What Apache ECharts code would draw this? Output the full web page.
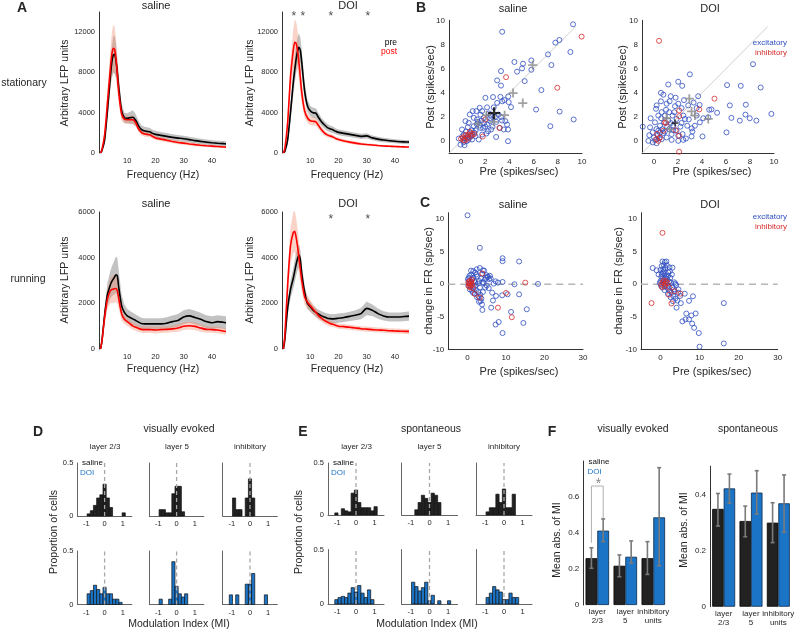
<!DOCTYPE html>
<html><head><meta charset="utf-8">
<script src="https://cdn.jsdelivr.net/npm/echarts@6/dist/echarts.min.js"></script>
<style>html,body{margin:0;padding:0;background:#fff}#c{width:800px;height:632px}</style>
</head><body><div id="c"></div>
<script>
// ---------------- DATA ----------------
const freq = [0.5,1,2,3,4,4.5,5,5.5,6,6.5,7,8,9,10,11,12,13,14,15,16,17,18,19,20,22,24,26,28,30,32,34,36,38,40,42,44,45];
const statSalPre = [0,200,1300,4200,7500,8900,9700,9800,9200,8000,6500,4200,3500,3450,3500,3550,3250,2700,2350,2200,2150,2100,1950,1850,1750,1650,1550,1480,1420,1330,1230,1150,1080,1020,970,930,910];
const statSalPreSem = [0,50,300,700,1200,1500,1800,1900,1700,1400,1100,700,500,500,600,700,600,500,400,400,400,380,360,350,340,330,320,310,300,290,280,270,260,250,250,250,250];
const statSalPost = [0,300,1800,5000,8300,9700,10400,10300,9400,7800,6000,3900,3350,3300,3300,3300,3000,2400,2050,1900,1850,1800,1650,1500,1380,1270,1150,1050,980,900,830,770,720,680,640,600,580];
const statSalPostSem = [0,80,500,1200,1800,2100,2300,2300,2000,1600,1200,700,450,400,400,400,350,300,280,260,250,240,230,220,210,200,190,180,170,160,150,140,130,120,110,110,110];
const statDoiPre = [0,150,1300,4000,7000,8200,9300,10100,10500,10200,9000,6200,4700,4200,4000,3950,3500,3100,2800,2550,2400,2300,2150,2050,1950,1850,1750,1650,1700,1500,1380,1290,1220,1160,1120,1090,1080];
const statDoiPreSem = [0,60,400,900,1200,1300,1400,1400,1400,1300,1200,900,600,500,500,500,450,400,380,360,340,320,300,290,280,270,260,250,250,240,230,220,210,200,200,200,200];
const statDoiPost = [0,400,3000,7500,10200,11000,10900,10200,9000,7500,6000,4200,3500,3200,3150,3100,2700,2300,2000,1800,1700,1600,1450,1350,1200,1080,980,900,840,790,740,700,670,640,620,600,590];
const statDoiPostSem = [0,150,800,1600,2100,2200,2200,2000,1700,1400,1100,700,500,450,420,400,350,300,260,240,220,200,190,180,170,160,150,140,130,120,110,100,100,90,90,90,90];
const runSalPre = [0,300,1500,2400,2800,2950,3050,3150,3250,3200,2700,1900,1600,1450,1380,1320,1250,1180,1120,1100,1100,1100,1100,1100,1100,1130,1200,1250,1400,1450,1380,1300,1200,1150,1200,1170,1150];
const runSalPreSem = [0,60,300,500,600,650,700,750,800,800,700,500,350,300,280,270,260,250,250,250,250,250,250,250,250,260,270,280,300,300,300,290,280,280,280,280,280];
const runSalPost = [0,300,1400,2200,2550,2600,2620,2640,2650,2550,2200,1550,1300,1200,1100,1000,950,900,860,850,850,850,840,830,850,860,880,920,1000,1020,990,920,860,850,830,790,770];
const runSalPostSem = [0,60,300,450,550,600,600,600,600,550,450,300,200,180,170,160,150,150,150,150,150,150,150,150,150,150,150,160,170,170,170,160,150,140,140,140,140];
const runDoiPre = [0,400,1800,2600,3100,3400,3700,3950,4100,3900,3300,2500,2000,1850,1700,1600,1520,1450,1400,1350,1330,1320,1330,1350,1380,1430,1480,1550,1780,1700,1550,1450,1400,1400,1400,1430,1440];
const runDoiPreSem = [0,100,300,400,450,500,500,500,500,450,400,300,250,220,200,200,200,200,200,200,200,200,200,200,200,200,220,250,300,250,220,200,200,200,200,200,200];
const runDoiPost = [0,600,2800,4500,5100,5150,4900,4500,4000,3500,3000,2300,2050,1900,1750,1600,1450,1350,1250,1180,1120,1080,1040,1000,980,950,920,890,870,850,830,820,800,790,780,770,770];
const runDoiPostSem = [0,200,600,800,900,900,850,800,700,600,500,350,300,250,220,200,180,160,150,140,130,120,110,110,110,110,110,110,110,110,110,110,110,110,110,110,110];
const starsStatDoi = [4.2, 7.4, 17.3, 30.4];
const starsRunDoi = [17.3, 30.4];

const bSalExc = [[3.4,9.05],[9.26,9.67],[8.13,8.37],[7.8,8.15],[7.19,7.18],[9.04,7.38],[7.47,6.3],[5.81,6.68],[5.81,5.91],[5.12,6.41],[5.04,6.02],[4.63,5.75],[4.41,6.55],[5.26,4.97],[3.3,5.8],[2.98,5.03],[3.3,4.6],[3.25,3.67],[3.58,3.4],[3.94,3.23],[2.64,3.65],[2.01,3.59],[6.64,4.23],[6.2,2.62],[8.15,2.45],[7.38,1.24],[9.31,1.8],[3.88,0],[2.9,0.35],[4.13,2.82],[2.15,2.8],[2.7,2.8],[2.98,3.17],[3.1,2.2],[3.39,1.71],[3.66,1.66],[3.8,1.38],[3.88,0.97],[3.53,0.97],[3.2,1.1],[2.42,1.66],[2.23,0.83],[1.82,1.1],[1.52,1.3],[1.05,1.93],[0.96,2.49],[1.32,1.8],[1.6,2.2],[1.74,2.49],[1.87,1.93],[0.63,1.52],[0.36,1.66],[0.08,0.97],[0.22,0.55],[0.5,0.28],[0.91,0.14],[1.18,0.41],[0.77,0.69],[1.05,1.24],[0.55,1.16],[-0.05,-0.28],[0.28,-0.33],[-0.19,0.22],[2.15,1.38],[2.48,0.97],[2.1,0.64],[1.74,0.55],[1.46,0.14],[2.92,1.6],[2.42,2.15],[1.27,2.49],[0.72,2.21],[1.54,2.76],[0.1,0.4],[0.4,0.8],[0.6,0.1],[0.9,0.9],[1.2,0.9],[1.4,1.6],[1.9,1.5],[2.6,1.2],[2.8,2.0],[3.3,2.0],[0.3,0.2],[0.8,0.4],[1.1,0.7],[1.6,1.1],[2.0,1.2],[2.4,1.9],[1.3,1.4],[0.2,-0.1],[0.45,0.0],[0.7,0.3],[0.95,0.5],[1.7,1.7],[2.3,2.3],[3.4,3.3],[3.9,3.7]];
const bSalInh = [[3.72,5.3],[7.96,4.42],[9.97,8.65],[3.17,1.1],[1.79,0.39],[0,0.2],[0.36,0.5],[0.72,0.77],[0.9,0.6],[0.2,0.1],[0.5,0.35],[1.1,0.6],[0.6,0.55],[2.0,1.8],[0.3,0.05],[0.85,0.45],[0.15,0.3],[0.55,0.2]];
const bSalGrand = [[2.1,2.15],[2.7,1.6],[3.6,2.15],[4.3,3.98],[5.1,3.15],[5.92,6.3],[1.4,1.45]];
const bSalMean = [[2.73,2.32]];
const bDoiExc = [[-0.94,1.2],[2.99,5.53],[1.19,4.69],[2.02,4.92],[2.35,4.58],[0.58,4.0],[8.25,6.37],[6.09,4.64],[7.23,4.58],[8.89,4.44],[6.32,2.96],[7.65,3.02],[5.26,2.35],[6.45,1.93],[7.15,1.7],[7.98,1.9],[8.53,1.7],[9.78,2.26],[7.62,2.2],[6.04,0.73],[4.04,0.39],[3.13,0.39],[2.66,0.22],[4.79,2.63],[4.52,1.98],[4.1,1.9],[3.55,2.74],[3.68,3.72],[0.78,3.85],[0.58,3.3],[1.05,3.1],[1.39,3.72],[1.75,2.9],[2.02,3.1],[2.3,2.74],[0.22,2.96],[0.17,2.68],[-0.28,1.9],[-0.33,1.15],[-0.39,0.5],[-0.47,0.03],[-0.11,0.73],[0.08,1.56],[0.36,2.12],[0.64,2.4],[0.91,2.12],[1.27,2.4],[1.55,2.12],[1.88,1.84],[2.3,1.51],[2.44,2.12],[2.58,1.84],[2.77,1.28],[3.13,1.06],[3.41,1.28],[3.82,1.56],[3.55,2.12],[2.85,2.96],[1.88,0.87],[1.47,0.59],[1.05,0.31],[0.64,0.17],[0.22,-0.17],[0.78,0.67],[1.27,1.0],[0.5,1.28],[0.83,1.56],[1.19,1.7],[1.61,1.28],[2.02,0.45],[1.47,0.11],[0.36,0.87],[0,0.31],[2.38,0.59],[2.02,0.03],[2.44,0.11],[1.69,2.4],[0.3,0.5],[0.5,0.7],[0.7,1.0],[0.9,0.8],[1.1,1.2],[1.4,1.5],[0.2,1.0],[0.6,1.9],[1.0,2.6],[1.3,3.3],[1.8,3.6],[2.5,3.4],[3.3,3.2],[-0.1,-0.1],[0.1,0.1],[0.45,0.25],[1.6,0.9],[2.2,1.2],[2.9,1.8],[3.2,0.8],[4.6,2.6],[3.8,3.0]];
const bDoiInh = [[0.42,8.3],[5.04,3.52],[3.77,2.63],[2.1,2.54],[2.1,2.07],[1.0,1.51],[0.78,0.87],[2.1,-0.87],[2.1,0.45],[0.36,0.03],[0.5,0.3],[0.2,0.15],[1.8,0.9],[0.9,1.55],[0.25,0.6]];
const bDoiGrand = [[2.94,3.52],[3.13,2.46],[3.41,2.12],[4.52,1.84],[1.05,1.9],[1.3,1.0]];
const bDoiMean = [[1.75,1.5]];

const cSalExc = [[0,10.6],[3.2,5.6],[9.1,4.0],[9.1,3.55],[13.4,3.5],[3.2,2.5],[4.0,2.15],[18.3,0.05],[12.2,0],[10.4,-1.55],[13.4,-1.55],[9.0,-1.7],[11.3,-4.25],[15.4,-3.85],[8.1,-5.8],[7.3,-6.2],[9.1,-7.5],[14.5,-5.95],[3.85,-3.95],[3.76,-3.1],[6.15,-3.6],[6.6,-2.5],[7.3,0.45],[7.9,0.25],[9.1,0.35],[5.3,1.1],[4.9,1.4],[6.4,-1.3],[7.4,-1.8],[3.0,-2.7],[0.5,1.3],[1,1.5],[1.5,1],[2,1.8],[2.5,1.2],[1.2,0.8],[0.3,0.5],[0.8,-0.3],[1.6,-0.6],[2.2,-0.9],[2.8,-1.2],[3.3,-1.6],[3.6,-2.2],[2.5,-2.0],[1.8,-1.4],[1.2,-1.0],[0.6,-0.8],[3.0,0.5],[3.5,0.9],[4.2,0.2],[4.6,-0.5],[5.0,-0.2],[5.6,0.8],[4.3,2.1],[3.8,1.6],[2.7,0.1],[2.0,0.3],[0.2,-0.2],[1.0,0.2],[4.0,-1.2],[3.2,-0.5],[5.2,1.2],[6.0,0.9],[2.4,2.3],[1.5,2.0],[0.9,2.1],[6.8,0.1],[5.5,-0.6],[4.5,0.7],[3.4,-2.6],[2.9,-1.9],[1.4,-1.3],[0.4,1.0],[0.1,0.8],[2.1,-0.2],[3.9,0.3],[4.8,1.0],[5.8,1.3],[2.3,1.5],[1.7,0.5]];
const cSalInh = [[15.0,0.25],[10,-1.33],[11.5,-5.07],[7.9,-3.6],[3.85,1.65],[1.9,-1.5],[3.2,-2.05],[0.2,0.3],[0.5,0.1],[0.8,-0.2],[1,0.4],[0.3,-0.3],[0.6,0.5],[1.2,-0.1],[0.4,0.05],[0.9,0.2],[1.4,-0.6],[0.7,-0.5],[1.1,0.7]];
const cDoiExc = [[16.2,-2.9],[16.2,-9.1],[10,-9.6],[9.8,-7.5],[8.6,-6.7],[8.1,-6.05],[9.0,-4.5],[7.9,-4.8],[6.6,-4.5],[6.4,-5.4],[7.3,-5.4],[5.6,-5.7],[8.3,-1.85],[7.3,-2.55],[6.2,-1.45],[5.2,-2.9],[4.1,-3.6],[-2.0,2.5],[-1.0,2.15],[0.5,3.5],[1.5,3.5],[3.05,2.55],[0,2.2],[0.3,2.8],[0.8,3.0],[1.2,2.5],[0.6,1.8],[1.0,1.5],[1.5,1.2],[2.0,1.8],[2.5,1.0],[0.2,1.2],[0.4,0.6],[-0.2,0.2],[0.8,0.1],[1.3,-0.3],[1.8,-0.6],[2.3,-1.0],[2.8,-1.3],[3.3,-1.8],[3.8,-2.2],[4.3,-2.5],[2.6,-2.0],[1.9,-1.5],[1.0,-0.9],[0.5,-0.5],[3.0,-0.5],[3.5,0.3],[4.0,-0.1],[4.5,-1.3],[5.0,-1.8],[2.2,0.4],[1.7,0.8],[2.9,1.5],[0.1,-0.2],[0.7,2.3],[1.1,3.4],[-0.5,1.5],[3.8,0.1],[4.6,-0.8],[0.9,2.0],[1.6,2.9],[2.4,2.0],[0.3,1.6],[1.4,0.4],[2.0,-0.2],[3.2,-2.6],[3.6,-1.1],[2.7,0.2],[0.6,0.9],[1.2,1.0],[0.0,0.5],[1.9,1.3],[2.3,2.6],[3.4,-0.8]];
const cDoiInh = [[0.5,7.9],[-2.3,-2.9],[2.8,-2.95],[2.2,-1.6],[3.6,-1.07],[5.1,-1.45],[0.2,0],[0.6,0.3],[1.0,-0.3],[1.4,0.5],[0.8,0.6],[1.8,0.2],[0.3,-0.4],[2.2,-0.5],[1.2,0.1]];

const binCenters = [-1.05,-0.875,-0.7,-0.525,-0.35,-0.175,0,0.175,0.35,0.525,0.7,0.875,1.05];
const BIN_W = 0.175;
const dL23Sal = [0,0.02,0.05,0.1,0.17,0.2,0.3,0.17,0.08,0,0,0,0.03];
const dL23Doi = [0,0.1,0.13,0.18,0.14,0.1,0.16,0.1,0.1,0.05,0.05,0.02,0];
const dL5Sal  = [0,0.06,0.06,0.03,0.03,0.21,0.28,0.28,0.04,0,0,0,0];
const dL5Doi  = [0,0.05,0,0,0.05,0.4,0.17,0.1,0.07,0.1,0,0,0];
const dInhSal = [0,0.17,0.06,0.06,0,0.17,0.35,0.17,0,0,0,0,0];
const dInhDoi = [0.09,0,0.09,0,0,0.19,0.19,0.29,0,0,0,0.09,0];
const eL23Sal = [0.02,0,0.06,0.04,0.03,0.21,0.24,0.12,0.07,0.07,0.07,0.04,0.08];
const eL23Doi = [0.04,0.06,0.07,0.06,0.1,0.15,0.11,0.17,0.1,0.06,0.13,0.04,0];
const eL5Sal  = [0,0,0.05,0.12,0.19,0.16,0.12,0.21,0.19,0.12,0,0,0];
const eL5Doi  = [0,0.2,0.16,0.12,0.15,0.2,0.03,0.08,0,0.03,0,0,0.03];
const eInhSal = [0,0.03,0.07,0.07,0.2,0.12,0.25,0.07,0.07,0.2,0,0,0];
const eInhDoi = [0,0.06,0.1,0.16,0.13,0.11,0.04,0.04,0.1,0.06,0.06,0,0];

const fCats = ['layer\n2/3','layer\n5','inhibitory\nunits'];
const fVisSal = [0.26,0.218,0.26];
const fVisDoi = [0.413,0.268,0.487];
const fVisSalErr = [[0.204,0.318],[0.157,0.278],[0.17,0.352]];
const fVisDoiErr = [[0.352,0.478],[0.232,0.356],[0.218,0.763]];
const fSpoSal = [0.348,0.305,0.299];
const fSpoDoi = [0.421,0.406,0.368];
const fSpoSalErr = [[0.287,0.403],[0.249,0.358],[0.228,0.37]];
const fSpoDoiErr = [[0.368,0.472],[0.33,0.484],[0.265,0.469]];
const fSigBracket = [[0,0.346,0.661,0.482]];

// ---------------- BUILD ----------------
const FAM = "'Liberation Sans', Arial, Helvetica, sans-serif";
const TXT = '#262626';
const BLUE = '#2f4fc1', RED = '#d42a2a', DOIBLUE = '#1b74c6';
const grids = [], xAxes = [], yAxes = [], series = [], graphics = [];

function text(x, y, str, o) {
  o = o || {};
  graphics.push({type:'text', x:x, y:y, rotation:o.rot||0, z:100, silent:true,
    style:{text:str, fill:o.color||TXT, font:(o.weight||'normal')+' '+(o.size||10)+'px '+FAM,
      align:o.align||'center', verticalAlign:o.va||'middle'}});
}
function axisBase(show, labels, fs) {
  return {axisLine:{show:show, onZero:false, lineStyle:{color:'#333', width:1}},
    axisTick:{show:false}, splitLine:{show:false},
    axisLabel: labels ? {customValues:labels, fontSize:fs, color:TXT, margin:4, formatter:function(v){return String(v);}} : {show:false}};
}
function addGrid(g, xa, ya) {
  const i = grids.length;
  grids.push(g);
  xAxes.push(Object.assign({gridIndex:i}, xa));
  yAxes.push(Object.assign({gridIndex:i}, ya));
  return i;
}

// ---- Panel A ----
function lfp(left, top, h, ymax, ylabs, pre, preSem, post, postSem) {
  const gi = addGrid({left:left, top:top, width:127, height:h},
    Object.assign({type:'value', min:0, max:45}, axisBase(false, [10,20,30,40], 7.5)),
    Object.assign({type:'value', min:0, max:ymax}, axisBase(true, ylabs, 7.5)));
  const band = function(m, s, color) {
    const lo = m.map((v,i)=>Math.max(0, v - s[i]));
    const hi = m.map((v,i)=>v + s[i]);
    series.push({type:'custom', xAxisIndex:gi, yAxisIndex:gi, silent:true, z:1,
      encode:{x:0, y:[1,2]},
      data:freq.map((f,i)=>[f, lo[i], hi[i]]),
      renderItem:function(params, api){
        if (params.dataIndex !== 0) return null;
        const pts = [];
        for (let i = 0; i < freq.length; i++) pts.push(api.coord([freq[i], hi[i]]));
        for (let i = freq.length - 1; i >= 0; i--) pts.push(api.coord([freq[i], lo[i]]));
        return {type:'polygon', shape:{points:pts}, style:{fill:color, stroke:null}};
      }});
  };
  band(pre, preSem, 'rgba(120,120,120,0.45)');
  band(post, postSem, 'rgba(240,140,110,0.38)');
  series.push({type:'line', xAxisIndex:gi, yAxisIndex:gi, symbol:'none', smooth:0.2, z:4,
    lineStyle:{color:'#000', width:1.6}, data:freq.map((f,i)=>[f, pre[i]])});
  series.push({type:'line', xAxisIndex:gi, yAxisIndex:gi, symbol:'none', smooth:0.2, z:5,
    lineStyle:{color:'#ff0000', width:1.6}, data:freq.map((f,i)=>[f, post[i]])});
  return gi;
}
lfp(99, 12, 141, 14000, [0,4000,8000,12000], statSalPre, statSalPreSem, statSalPost, statSalPostSem);
const gAsd = lfp(282, 12, 141, 14000, [0,4000,8000,12000], statDoiPre, statDoiPreSem, statDoiPost, statDoiPostSem);
lfp(99, 212, 137, 6000, [0,2000,4000,6000], runSalPre, runSalPreSem, runSalPost, runSalPostSem);
const gArd = lfp(282, 212, 137, 6000, [0,2000,4000,6000], runDoiPre, runDoiPreSem, runDoiPost, runDoiPostSem);
function stars(gi, xs, y) {
  series.push({type:'scatter', xAxisIndex:gi, yAxisIndex:gi, symbolSize:1, itemStyle:{color:'rgba(0,0,0,0)'},
    label:{show:true, formatter:'*', position:'inside', fontSize:12, color:'#222'},
    data:xs.map(x=>[x, y])});
}
stars(gAsd, starsStatDoi, 13500);
stars(gArd, starsRunDoi, 5650);

// ---- Panels B & C ----
const PLUS = 'path://M4,0H6V10H4ZM0,4H10V6H0Z';
function circles(gi, data, color) {
  series.push({type:'scatter', xAxisIndex:gi, yAxisIndex:gi, symbol:'circle', symbolSize:5, clip:false,
    itemStyle:{color:'rgba(0,0,0,0)', borderColor:color, borderWidth:1}, data:data});
}
function scatterPanel(left, top, w, h, xr, yr, xl, yl) {
  return addGrid({left:left, top:top, width:w, height:h},
    Object.assign({type:'value', min:xr[0], max:xr[1]}, axisBase(true, xl, 8)),
    Object.assign({type:'value', min:yr[0], max:yr[1]}, axisBase(true, yl, 8)));
}
const bTicks = [0,2,4,6,8,10];
const gBs = scatterPanel(449, 20.3, 133, 133, [-1,10], [-1,10], bTicks, bTicks);
const gBd = scatterPanel(642, 20.3, 132, 133, [-1,10], [-1,10], bTicks, bTicks);
[[gBs,bSalExc,bSalInh,bSalGrand,bSalMean,12],[gBd,bDoiExc,bDoiInh,bDoiGrand,bDoiMean,7]].forEach(function(p){
  series.push({type:'line', xAxisIndex:p[0], yAxisIndex:p[0], symbol:'none', silent:true, z:1,
    lineStyle:{color:'#cfcfcf', width:1}, data:[[-1,-1],[9.5,9.5]]});
  circles(p[0], p[1], BLUE);
  circles(p[0], p[2], RED);
  series.push({type:'scatter', xAxisIndex:p[0], yAxisIndex:p[0], symbol:PLUS, symbolSize:9, z:6,
    itemStyle:{color:'#8a8a8a'}, data:p[3]});
  series.push({type:'scatter', xAxisIndex:p[0], yAxisIndex:p[0], symbol:PLUS, symbolSize:p[5], z:7,
    itemStyle:{color:'#000'}, data:p[4]});
});
const gCs = scatterPanel(448.3, 212.7, 134.7, 136.6, [-5,30], [-10,11], [0,10,20,30], [-10,-5,0,5,10]);
const gCd = scatterPanel(641, 212.7, 136.7, 136.6, [-5,30], [-10,11], [0,10,20,30], [-10,-5,0,5,10]);
[[gCs,cSalExc,cSalInh],[gCd,cDoiExc,cDoiInh]].forEach(function(p){
  series.push({type:'line', xAxisIndex:p[0], yAxisIndex:p[0], symbol:'none', silent:true, z:1,
    lineStyle:{color:'#b5b5b5', width:1.5, type:[7,5]}, data:[[-5,0],[30,0]]});
  circles(p[0], p[1], BLUE);
  circles(p[0], p[2], RED);
});

// ---- Panels D & E ----
function hist(left, top, w, h, vals, fill, showY) {
  const gi = addGrid({left:left, top:top, width:w, height:h},
    Object.assign({type:'value', min:-1.5, max:1.5}, axisBase(true, [-1,0,1], 7.5)),
    Object.assign({type:'value', min:0, max:0.5}, axisBase(true, showY ? [0,0.5] : null, 7.5)));
  xAxes[gi].axisLine.lineStyle.color = '#666';
  yAxes[gi].axisLine.lineStyle.color = '#666';
  series.push({type:'custom', xAxisIndex:gi, yAxisIndex:gi, z:2,
    data: binCenters.map((c,i)=>[c, vals[i]]).filter(d=>d[1]>0),
    renderItem: function(params, api) {
      const c = api.value(0), v = api.value(1);
      const p0 = api.coord([c - BIN_W/2, 0]), p1 = api.coord([c + BIN_W/2, v]);
      return {type:'rect', shape:{x:p0[0], y:p1[1], width:p1[0]-p0[0], height:p0[1]-p1[1]},
        style:{fill:fill, stroke:'#111', lineWidth:0.7}};
    }});
  series.push({type:'line', xAxisIndex:gi, yAxisIndex:gi, symbol:'none', silent:true, z:6,
    lineStyle:{color:'#a8a8a8', width:1.3, type:[4,3]}, data:[[0,0],[0,0.5]]});
}
const SAL = '#222222';
const dLefts = [77.3, 149.3, 222.7], eLefts = [328, 401.5, 476];
[[dL23Sal,dL23Doi],[dL5Sal,dL5Doi],[dInhSal,dInhDoi]].forEach(function(p, j){
  hist(dLefts[j], 463, 54.6, 53, p[0], SAL, j===0);
  hist(dLefts[j], 551, 54.6, 53.5, p[1], DOIBLUE, j===0);
});
[[eL23Sal,eL23Doi],[eL5Sal,eL5Doi],[eInhSal,eInhDoi]].forEach(function(p, j){
  hist(eLefts[j], 463, 56, 52, p[0], SAL, j===0);
  hist(eLefts[j], 549.5, 56, 54.5, p[1], DOIBLUE, j===0);
});

// ---- Panel F ----
function barPanel(left, top, w, h, ymax, ylabs, sal, doi, salErr, doiErr) {
  const gi = addGrid({left:left, top:top, width:w, height:h},
    {type:'category', data:fCats, axisLine:{show:false}, axisTick:{show:false},
      axisLabel:{fontSize:8, lineHeight:8.5, color:TXT, margin:3, interval:0}},
    Object.assign({type:'value', min:0, max:ymax}, axisBase(true, ylabs, 8)));
  series.push({type:'bar', xAxisIndex:gi, yAxisIndex:gi, data:sal, barGap:'0%', barCategoryGap:'16%',
    itemStyle:{color:SAL, borderColor:'#000', borderWidth:0.8}});
  series.push({type:'bar', xAxisIndex:gi, yAxisIndex:gi, data:doi, barGap:'0%', barCategoryGap:'16%',
    itemStyle:{color:DOIBLUE, borderColor:'#0a2a4a', borderWidth:0.8}});
  [[salErr,-0.21],[doiErr,0.21]].forEach(function(e){
    series.push({type:'custom', xAxisIndex:gi, yAxisIndex:gi, z:10,
      data:e[0].map((r,i)=>[i, r[0], r[1]]),
      renderItem:function(params, api){
        const band = api.size([1,0])[0];
        const x = api.coord([api.value(0), 0])[0] + e[1]*band;
        const lo = api.coord([api.value(0), api.value(1)])[1];
        const hi = api.coord([api.value(0), api.value(2)])[1];
        const st = {stroke:'#7a7a7a', lineWidth:1.6};
        return {type:'group', children:[
          {type:'line', shape:{x1:x, y1:lo, x2:x, y2:hi}, style:st},
          {type:'line', shape:{x1:x-2, y1:lo, x2:x+2, y2:lo}, style:st},
          {type:'line', shape:{x1:x-2, y1:hi, x2:x+2, y2:hi}, style:st}]};
      }});
  });
  return gi;
}
const gFv = barPanel(583.3, 461, 84, 144, 0.8, [0,0.2,0.4,0.6], fVisSal, fVisDoi, fVisSalErr, fVisDoiErr);
barPanel(710, 466.2, 82, 140.5, 0.5, [0,0.2,0.4], fSpoSal, fSpoDoi, fSpoSalErr, fSpoDoiErr);
series.push({type:'custom', xAxisIndex:gFv, yAxisIndex:gFv, z:9, data:fSigBracket,
  renderItem:function(params, api){
    const band = api.size([1,0])[0];
    const cx = api.coord([api.value(0), 0])[0];
    const x1 = cx - 0.21*band, x2 = cx + 0.21*band;
    const y1 = api.coord([0, api.value(1)])[1], yt = api.coord([0, api.value(2)])[1], y2 = api.coord([0, api.value(3)])[1];
    return {type:'polyline', shape:{points:[[x1,y1],[x1,yt],[x2,yt],[x2,y2]]}, style:{stroke:'#b0b0b0', lineWidth:1, fill:null}};
  }});

// ---------------- TEXT ----------------
text(22, 8, 'A', {size:14, weight:'bold'});
text(421, 8, 'B', {size:14, weight:'bold'});
text(425, 203, 'C', {size:14, weight:'bold'});
text(38, 432, 'D', {size:14, weight:'bold'});
text(303, 432, 'E', {size:14, weight:'bold'});
text(552, 432, 'F', {size:14, weight:'bold'});
// A
text(156, 6, 'saline', {size:11}); text(348, 6, 'DOI', {size:11});
text(156, 204, 'saline', {size:11}); text(348, 204, 'DOI', {size:11});
text(24, 83, 'stationary', {size:10.5}); text(28, 279, 'running', {size:10.5});
[[65,83],[250,83],[65,280],[250,280]].forEach(p=>text(p[0], p[1], 'Arbitrary LFP units', {size:10.5, rot:Math.PI/2}));
[[163,175],[347,175],[163,369],[347,369]].forEach(p=>text(p[0], p[1], 'Frequency (Hz)', {size:10.5}));
text(397, 43, 'pre', {size:8.5, align:'right', color:'#000'});
text(397, 52, 'post', {size:8.5, align:'right', color:'#ff0000'});
// B / C
text(513, 9, 'saline', {size:11}); text(710, 9, 'DOI', {size:11});
text(513, 205, 'saline', {size:11}); text(710, 205, 'DOI', {size:11});
text(431, 87, 'Post (spikes/sec)', {size:11, rot:Math.PI/2});
text(623, 87, 'Post (spikes/sec)', {size:11, rot:Math.PI/2});
text(519, 172, 'Pre (spikes/sec)', {size:11}); text(712, 172, 'Pre (spikes/sec)', {size:11});
text(429, 281, 'change in FR (sp/sec)', {size:11, rot:Math.PI/2});
text(619, 281, 'change in FR (sp/sec)', {size:11, rot:Math.PI/2});
text(519, 372, 'Pre (spikes/sec)', {size:11}); text(712, 372, 'Pre (spikes/sec)', {size:11});
text(787, 43, 'excitatory', {size:8, align:'right', color:BLUE});
text(787, 53, 'inhibitory', {size:8, align:'right', color:RED});
text(787, 217, 'excitatory', {size:8, align:'right', color:BLUE});
text(787, 227, 'inhibitory', {size:8, align:'right', color:RED});
// D / E
text(179, 429, 'visually evoked', {size:10.5});
text(431, 429, 'spontaneous', {size:10.5});
[[105,447,'layer 2/3'],[177,447,'layer 5'],[250,447,'inhibitory'],[356.5,447,'layer 2/3'],[429.5,447,'layer 5'],[504,447,'inhibitory']]
  .forEach(p=>text(p[0], p[1], p[2], {size:8}));
text(54, 532, 'Proportion of cells', {size:10.5, rot:Math.PI/2});
text(299, 532, 'Proportion of cells', {size:10.5, rot:Math.PI/2});
text(179, 624, 'Modulation Index (MI)', {size:10.5});
text(427, 624, 'Modulation Index (MI)', {size:10.5});
text(82, 463, 'saline', {size:8, align:'left', color:'#111'});
text(80, 472.5, 'DOI', {size:8, align:'left', color:DOIBLUE});
text(333, 462.5, 'saline', {size:8, align:'left', color:'#111'});
text(331, 472.5, 'DOI', {size:8, align:'left', color:DOIBLUE});
// F
text(633, 429, 'visually evoked', {size:10.5});
text(748, 429, 'spontaneous', {size:10.5});
text(557, 540, 'Mean abs. of MI', {size:10.5, rot:Math.PI/2});
text(684, 530, 'Mean abs. of MI', {size:10.5, rot:Math.PI/2});
text(588.5, 462, 'saline', {size:8, align:'left', color:'#111'});
text(587.5, 472, 'DOI', {size:8, align:'left', color:DOIBLUE});
text(598.5, 484, '*', {size:14, color:'#888'});

const chart = echarts.init(document.getElementById('c'), null, {renderer:'canvas'});
chart.setOption({animation:false, textStyle:{fontFamily:FAM}, grid:grids, xAxis:xAxes, yAxis:yAxes, series:series, graphic:graphics});
</script></body></html>
